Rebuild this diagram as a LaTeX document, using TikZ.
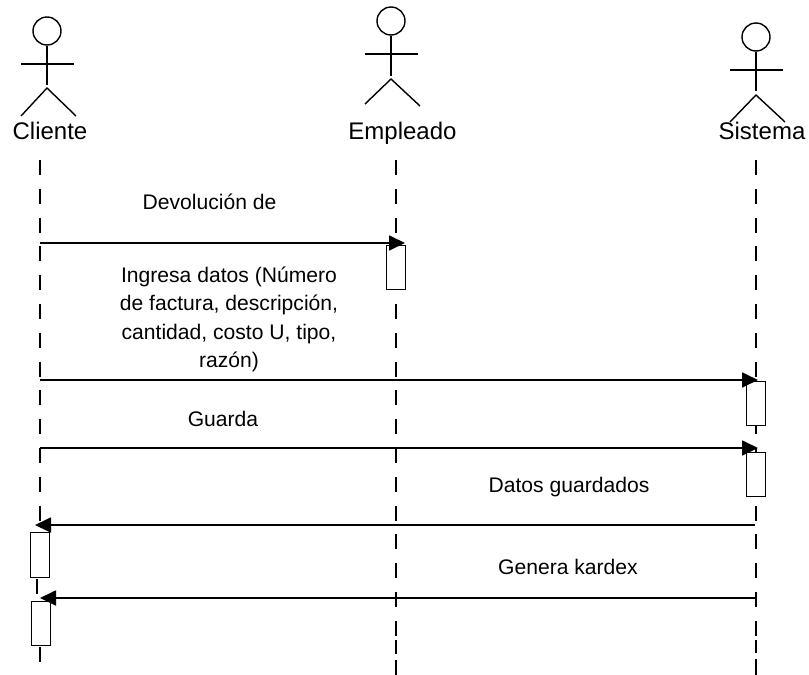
\documentclass[tikz,border=0pt]{standalone}
\usepackage{fontspec}
\setmainfont{Liberation Sans}
\usetikzlibrary{arrows.meta}
\tikzset{
  actorline/.style={line width=1.4pt,black},
  lifeline/.style={line width=1.3pt,dash pattern=on 15pt off 13.8pt},
  lifeend/.style={line width=1.3pt},
  msg/.style={line width=1.8pt,-{Triangle[length=16pt,width=15pt]}},
  actbox/.style={draw,line width=1.4pt,fill=white,minimum width=19pt,inner sep=0pt,anchor=north west},
  actorhead/.style={circle,draw,line width=1.4pt,minimum size=28pt,inner sep=0pt},
  lbl/.style={font=\fontsize{21.1}{28.3}\selectfont,align=center,inner sep=0pt},
  actorname/.style={font=\fontsize{24}{27}\selectfont,inner sep=0pt}
}
\begin{document}
\begin{tikzpicture}[x=1pt,y=-1pt]
\useasboundingbox (0,0) rectangle (809,675);
% lifelines
\coordinate (cT) at (40,160); \coordinate (cM) at (40,532);
\coordinate (cGa) at (37,579); \coordinate (cGb) at (37,594);
\coordinate (cEa) at (40,647); \coordinate (cEb) at (40,662);
\coordinate (eT) at (396,160); \coordinate (eM) at (396,636);
\coordinate (eDa) at (396,640); \coordinate (eDb) at (396,654);
\coordinate (eEa) at (396,660); \coordinate (eEb) at (396,675);
\coordinate (sT) at (756,160); \coordinate (sM) at (756,636);
\coordinate (sDa) at (756,640); \coordinate (sDb) at (756,653);
\coordinate (sEa) at (756,659); \coordinate (sEb) at (756,675);
\draw[lifeline] (cT) -- (cM);
\draw[lifeend] (cGa) -- (cGb);
\draw[lifeend] (cEa) -- (cEb);
\draw[lifeline] (eT) -- (eM);
\draw[lifeend] (eDa) -- (eDb);
\draw[lifeend] (eEa) -- (eEb);
\draw[lifeline] (sT) -- (sM);
\draw[lifeend] (sDa) -- (sDb);
\draw[lifeend] (sEa) -- (sEb);
% actors
\node[actorhead] (hc) at (47,31) {};
\coordinate (cNeck) at (47,85); \coordinate (cHip) at (47,88);
\coordinate (cL) at (21,64); \coordinate (cR) at (74,64);
\coordinate (cFL) at (21,116); \coordinate (cFR) at (76,116);
\draw[actorline] (hc.south) -- (cNeck);
\draw[actorline] (cL) -- (cR);
\draw[actorline] (cFL) -- (cHip) -- (cFR);
\node[actorhead] (he) at (391,21) {};
\coordinate (eNeck) at (391,76); \coordinate (eHip) at (391,79);
\coordinate (eL) at (365,54); \coordinate (eR) at (418,54);
\coordinate (eFL) at (365,104); \coordinate (eFR) at (420,106);
\draw[actorline] (he.south) -- (eNeck);
\draw[actorline] (eL) -- (eR);
\draw[actorline] (eFL) -- (eHip) -- (eFR);
\node[actorhead] (hs) at (756,37) {};
\coordinate (sNeck) at (756,91); \coordinate (sHip) at (756,95);
\coordinate (sL) at (730,70); \coordinate (sR) at (783,70);
\coordinate (sFL) at (730,122); \coordinate (sFR) at (785,122);
\draw[actorline] (hs.south) -- (sNeck);
\draw[actorline] (sL) -- (sR);
\draw[actorline] (sFL) -- (sHip) -- (sFR);
\node[actorname] (nc) at (50,131) {Cliente};
\node[actorname] (ne) at (402.5,133) {Empleado};
\node[actorname] (ns) at (762,131) {Sistema};
% activation boxes
\node[actbox,minimum height=44pt] (b1) at (386,245) {};
\node[actbox,minimum height=44pt] (b2) at (746,381) {};
\node[actbox,minimum height=44pt] (b3) at (746,452) {};
\node[actbox,minimum height=45pt] (b4) at (30,532) {};
\node[actbox,minimum height=44pt] (b5) at (31,601) {};
% messages
\coordinate (m1a) at (40,243); \coordinate (m1b) at (405,243);
\coordinate (m2a) at (40,380); \coordinate (m2b) at (758,380);
\coordinate (m3a) at (40,448); \coordinate (m3b) at (758,448);
\coordinate (m4a) at (755,525); \coordinate (m4b) at (35,525);
\coordinate (m5a) at (756,598); \coordinate (m5b) at (40,598);
\draw[msg] (m1a) -- (m1b);
\draw[msg] (m2a) -- (m2b);
\draw[msg] (m3a) -- (m3b);
\draw[msg] (m4a) -- (m4b);
\draw[msg] (m5a) -- (m5b);
% labels
\node[lbl] (l1) at (209.5,202) {Devolución de};
\node[lbl] (l2) at (229,319.5) {Ingresa datos (Número\\de factura, descripción,\\cantidad, costo U, tipo,\\razón)};
\node[lbl] (l3) at (223,419) {Guarda};
\node[lbl] (l4) at (569,487) {Datos guardados};
\node[lbl] (l5) at (568,567) {Genera kardex};
\end{tikzpicture}
\end{document}
